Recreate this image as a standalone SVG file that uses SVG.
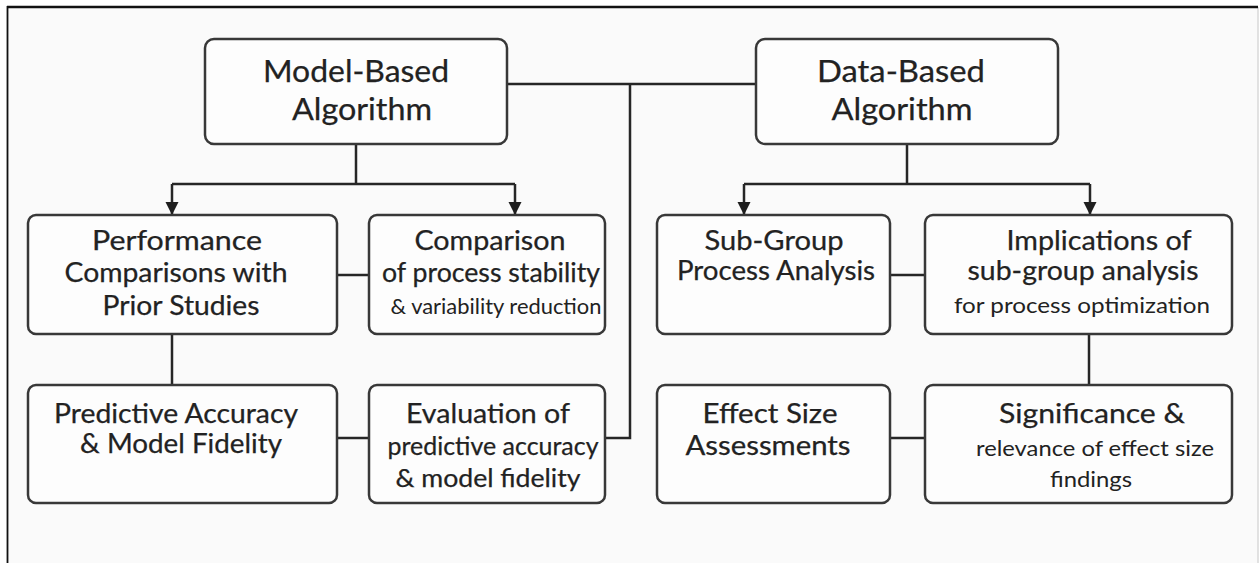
<svg xmlns="http://www.w3.org/2000/svg" width="1260" height="563" viewBox="0 0 1260 563">
<defs>
<marker id="arr" markerWidth="14" markerHeight="14" refX="13" refY="7" orient="auto" markerUnits="userSpaceOnUse" viewBox="0 0 14 14">
<path d="M0,0.5 L13,7 L0,13.5 Z" fill="#1e1e1e"/>
</marker>
<style>
.box{fill:#fdfdfd;stroke:#383838;stroke-width:2.5}
.ln{fill:none;stroke:#262626;stroke-width:2.5}
text{font-family:Lato,"Open Sans","Liberation Sans",sans-serif;fill:#222;stroke:#222;stroke-width:0.25;text-anchor:middle}
.t1{font-size:30px}
.t2{font-size:26px}
.t2b{font-size:25px}
.t3{font-size:22px;stroke-width:0}
</style>
</defs>
<rect x="0" y="0" width="1260" height="563" fill="#ffffff"/>
<rect x="8" y="7" width="1250" height="556" fill="#fafafa"/>
<line x1="1258" y1="7" x2="1258" y2="563" stroke="#d8d8d8" stroke-width="1.5"/>
<line x1="7" y1="7" x2="1258" y2="7" stroke="#111" stroke-width="2.5"/>
<line x1="7.5" y1="6" x2="7.5" y2="563" stroke="#111" stroke-width="1.8"/>

<g id="connectors">
<path class="ln" d="M507,84 H756"/>
<path class="ln" d="M630,84 V438 H605"/>
<path class="ln" d="M356,144 V184"/>
<path class="ln" d="M172,184 H515"/>
<path class="ln" d="M172,184 V215" marker-end="url(#arr)"/>
<path class="ln" d="M515,184 V215" marker-end="url(#arr)"/>
<path class="ln" d="M907,144 V184"/>
<path class="ln" d="M744,184 H1090"/>
<path class="ln" d="M744,184 V215" marker-end="url(#arr)"/>
<path class="ln" d="M1090,184 V215" marker-end="url(#arr)"/>
<path class="ln" d="M337,275 H369"/>
<path class="ln" d="M890,275 H925"/>
<path class="ln" d="M172,334 V385"/>
<path class="ln" d="M1089,334 V385"/>
<path class="ln" d="M337,438 H369"/>
<path class="ln" d="M890,438 H925"/>
</g>

<g id="model-based">
<rect class="box" x="205" y="39" width="302" height="105" rx="9"/>
<text class="t1" x="356" y="82" textLength="186" lengthAdjust="spacingAndGlyphs">Model-Based</text>
<text class="t1" x="362" y="120" textLength="140" lengthAdjust="spacingAndGlyphs">Algorithm</text>
</g>
<g id="data-based">
<rect class="box" x="756" y="39" width="302" height="105" rx="9"/>
<text class="t1" x="901" y="82" textLength="168" lengthAdjust="spacingAndGlyphs">Data-Based</text>
<text class="t1" x="902" y="120" textLength="141" lengthAdjust="spacingAndGlyphs">Algorithm</text>
</g>

<g id="performance">
<rect class="box" x="28" y="215" width="309" height="119" rx="8"/>
<text class="t2" x="177" y="250" textLength="170" lengthAdjust="spacingAndGlyphs">Performance</text>
<text class="t2" x="176" y="282" textLength="223" lengthAdjust="spacingAndGlyphs">Comparisons with</text>
<text class="t2" x="181" y="315" textLength="157" lengthAdjust="spacingAndGlyphs">Prior Studies</text>
</g>
<g id="comparison">
<rect class="box" x="369" y="215" width="236" height="119" rx="8"/>
<text class="t2" x="490" y="250" textLength="151" lengthAdjust="spacingAndGlyphs">Comparison</text>
<text class="t2" x="491" y="282" textLength="218" lengthAdjust="spacingAndGlyphs">of process stability</text>
<text class="t3" x="496" y="314" textLength="211" lengthAdjust="spacingAndGlyphs">&amp; variability reduction</text>
</g>
<g id="subgroup">
<rect class="box" x="657" y="215" width="233" height="119" rx="8"/>
<text class="t2" x="774" y="250" textLength="139" lengthAdjust="spacingAndGlyphs">Sub-Group</text>
<text class="t2" x="776" y="280" textLength="198" lengthAdjust="spacingAndGlyphs">Process Analysis</text>
</g>
<g id="implications">
<rect class="box" x="925" y="215" width="307" height="119" rx="8"/>
<text class="t2" x="1099" y="250" textLength="185" lengthAdjust="spacingAndGlyphs">Implications of</text>
<text class="t2" x="1083" y="280" textLength="231" lengthAdjust="spacingAndGlyphs">sub-group analysis</text>
<text class="t3" x="1082" y="313" textLength="256" lengthAdjust="spacingAndGlyphs">for process optimization</text>
</g>

<g id="predictive">
<rect class="box" x="28" y="385" width="309" height="118" rx="8"/>
<text class="t2" x="176" y="423" textLength="244" lengthAdjust="spacingAndGlyphs">Predictive Accuracy</text>
<text class="t2" x="181" y="453" textLength="202" lengthAdjust="spacingAndGlyphs">&amp; Model Fidelity</text>
</g>
<g id="evaluation">
<rect class="box" x="369" y="385" width="236" height="118" rx="8"/>
<text class="t2" x="488" y="423" textLength="164" lengthAdjust="spacingAndGlyphs">Evaluation of</text>
<text class="t2b" x="493" y="455" textLength="211" lengthAdjust="spacingAndGlyphs">predictive accuracy</text>
<text class="t2b" x="488" y="487" textLength="185" lengthAdjust="spacingAndGlyphs">&amp; model fidelity</text>
</g>
<g id="effect">
<rect class="box" x="657" y="385" width="233" height="118" rx="8"/>
<text class="t2" x="770" y="423" textLength="135" lengthAdjust="spacingAndGlyphs">Effect Size</text>
<text class="t2" x="768" y="455" textLength="165" lengthAdjust="spacingAndGlyphs">Assessments</text>
</g>
<g id="significance">
<rect class="box" x="925" y="385" width="307" height="118" rx="8"/>
<text class="t2" x="1092" y="423" textLength="186" lengthAdjust="spacingAndGlyphs">Significance &amp;</text>
<text class="t3" x="1095" y="456" textLength="238" lengthAdjust="spacingAndGlyphs">relevance of effect size</text>
<text class="t3" x="1091" y="487" textLength="82" lengthAdjust="spacingAndGlyphs">findings</text>
</g>
</svg>
